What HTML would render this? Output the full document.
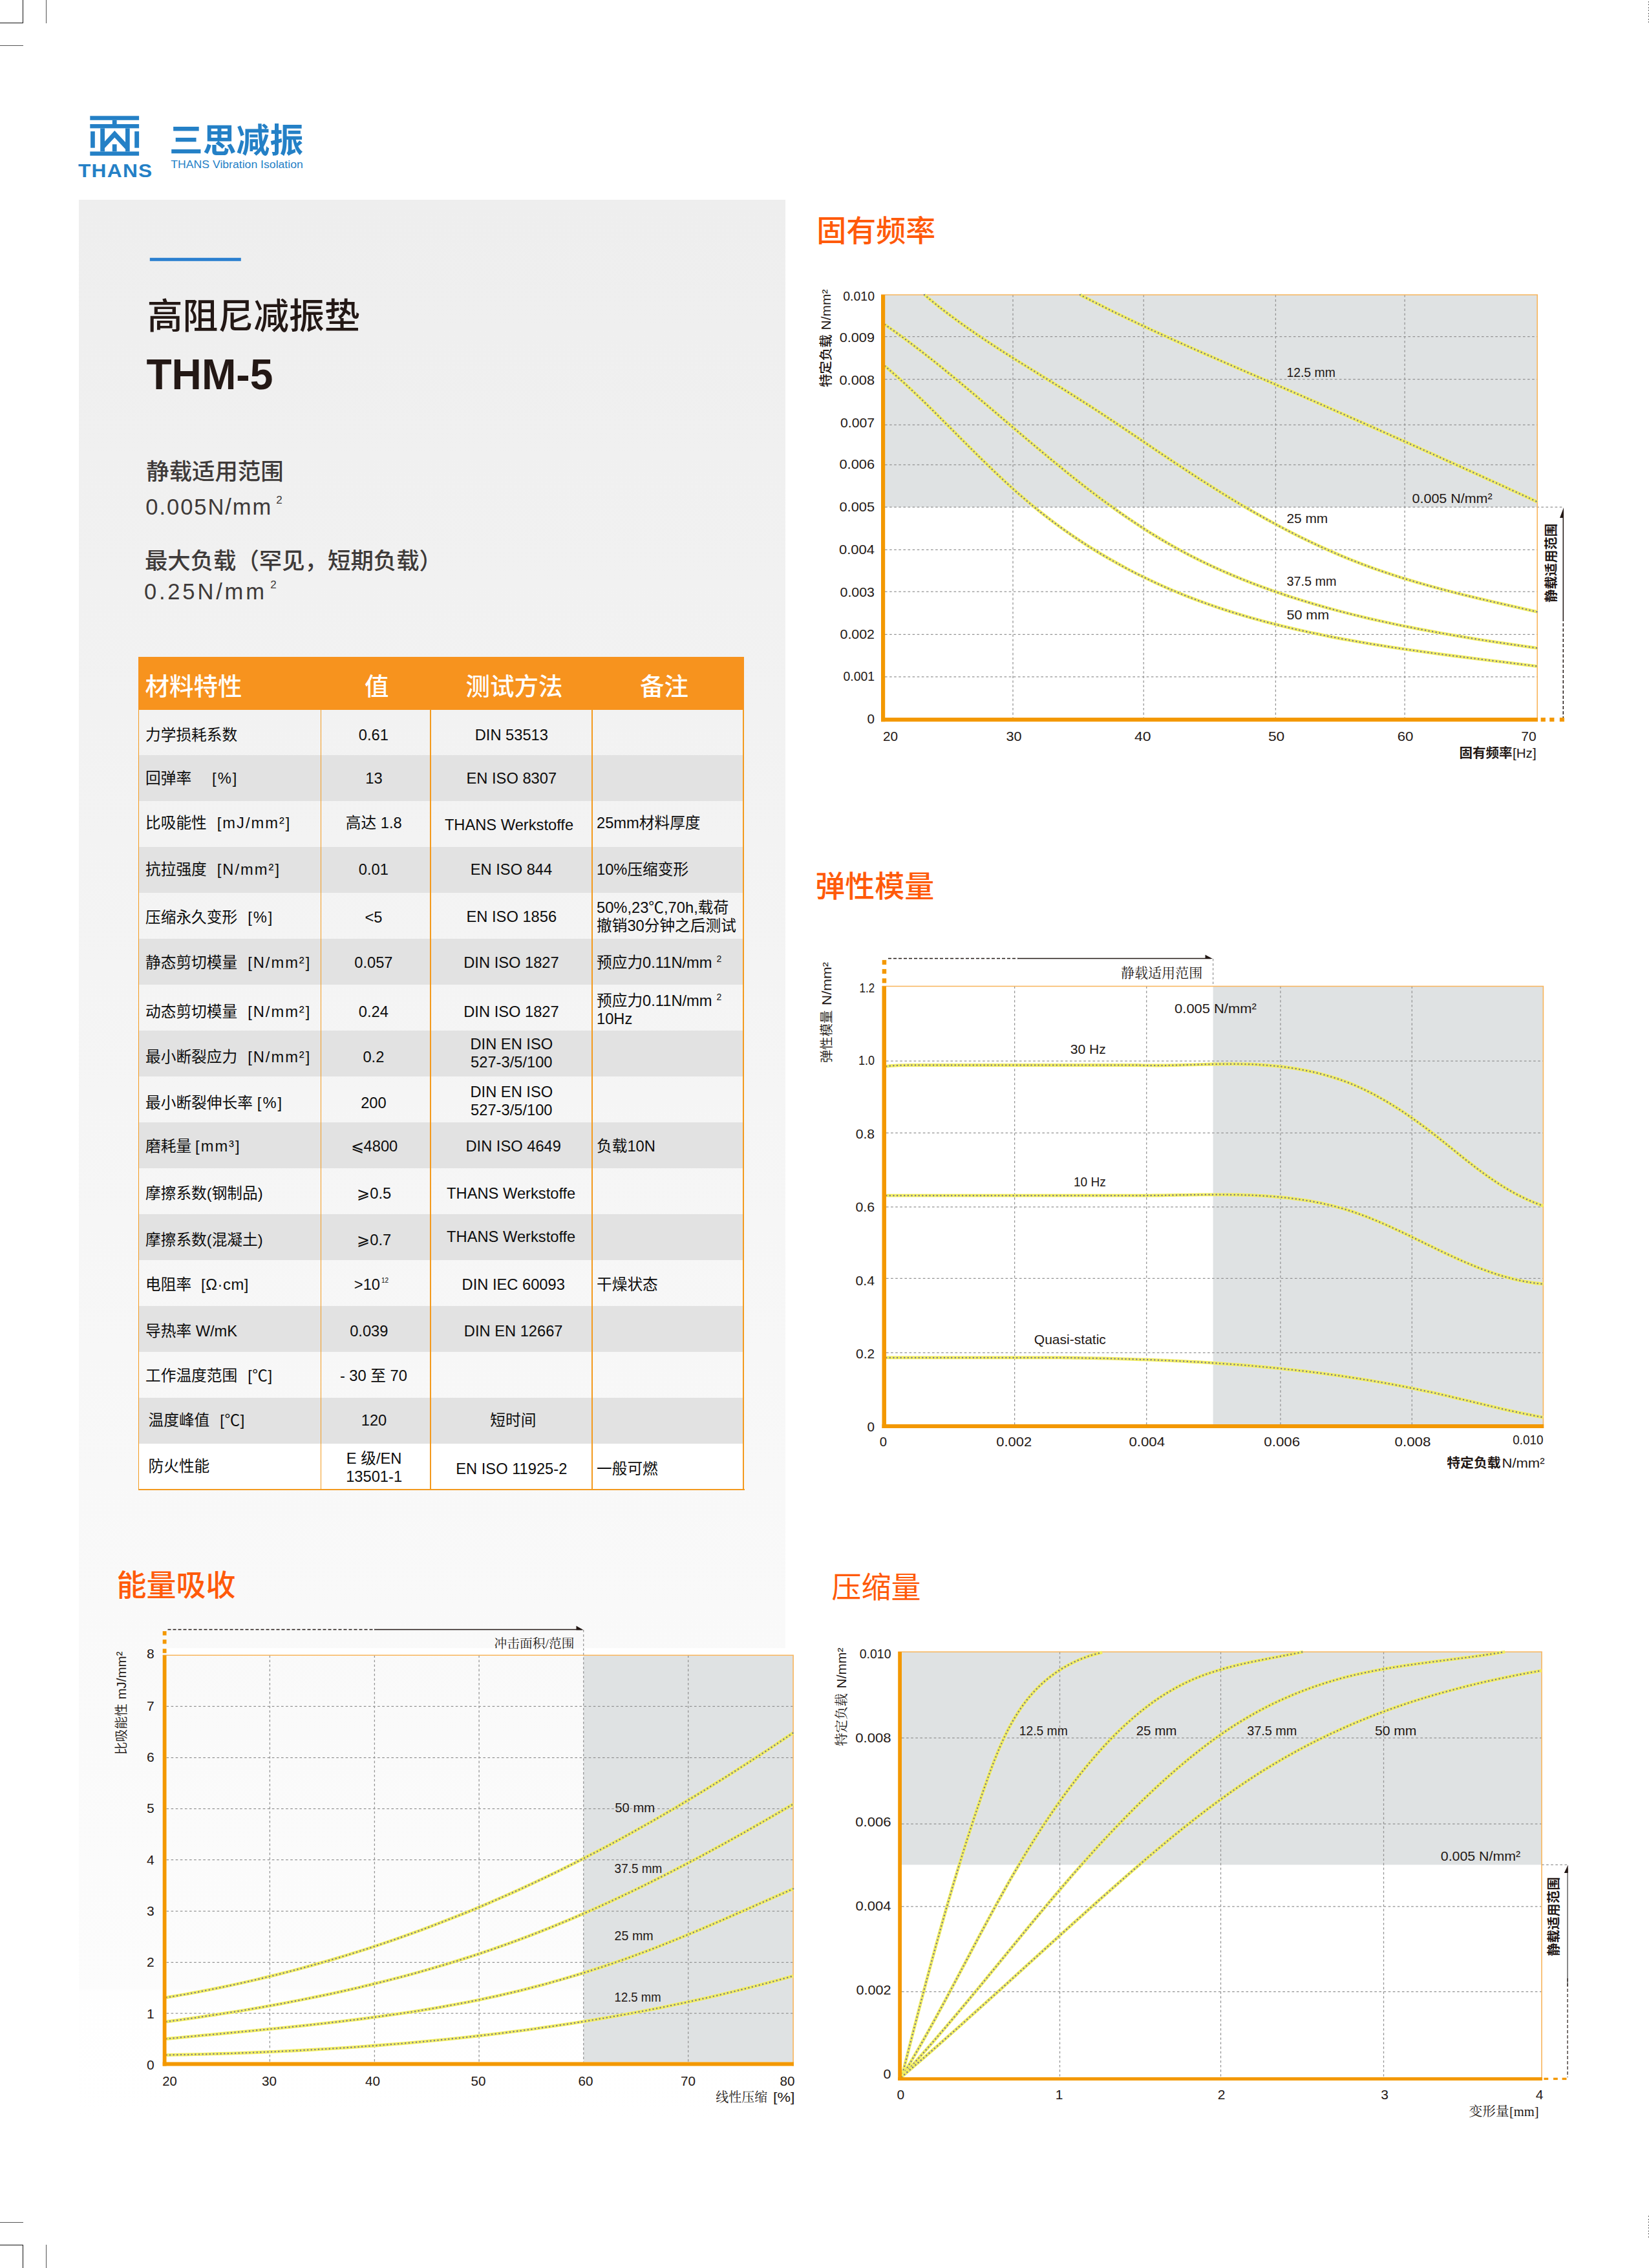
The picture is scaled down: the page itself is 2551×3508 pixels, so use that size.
<!DOCTYPE html>
<html lang="zh-CN"><head><meta charset="utf-8"><title>THM-5</title><style>
html,body{margin:0;padding:0;background:#fff}
body{width:2551px;height:3508px;position:relative;font-family:"Liberation Sans","Noto Sans CJK SC",sans-serif;color:#231815}
.abs{position:absolute}
svg text{font-family:"Liberation Sans","Noto Sans CJK SC",sans-serif;fill:#231815}
svg text.sf{font-family:"Liberation Serif","Noto Serif CJK SC",serif}
svg .b{font-weight:700}
svg .m{font-weight:500}
svg .l{font-weight:350}
.g{stroke:#939393;stroke-width:1.25;stroke-dasharray:3.6 3.5;fill:none}
.cy{stroke:#f2ee60;stroke-width:4.8;fill:none}
.cd{stroke:#7b7b8c;stroke-width:2.5;stroke-linecap:round;stroke-dasharray:0.01 5.6;fill:none}
.k{stroke:#231815;stroke-width:1.5;fill:none}
.kd{stroke:#231815;stroke-width:1.5;fill:none;stroke-dasharray:5 3}

.panel{left:122px;top:309px;width:1093px;height:2966px;background:linear-gradient(to bottom,#eeeeee 0%,#fcfcfc 93.3%,#fefefe 93.4%,#ffffff 100%)}
.crop{background:#111}
.crop.g{background:#555}
.tbl{left:0;top:0;width:0;height:0;font-size:23.7px;line-height:28px;color:#0d0d0d}
.th{left:214px;top:1016px;width:937px;height:82px;background:#f7931e;color:#fff;font-size:37.5px;font-weight:500}
.th span{position:absolute;white-space:nowrap;line-height:40px}
.tr{left:215px;width:935px;height:71px}
.tr.d{background:#e2e2e2}
.tr.w{background:#fff}
.td{position:absolute;top:0;height:71px;display:flex;align-items:center;white-space:nowrap}
.td>span{position:relative;display:block}
.c1{left:0;width:281px;justify-content:flex-start}
.c2{left:282px;width:169px;justify-content:center;text-align:center}
.c3{left:452px;width:249px;justify-content:center;text-align:center}
.c4{left:702px;width:233px;justify-content:flex-start}
.vl{background:#f39a1e;width:1.6px;top:1097px;height:1208px}
.hl{background:#f39a1e;left:213.5px;top:2303px;width:938px;height:2px}
.u{display:inline-block;letter-spacing:2px}
.u.p{letter-spacing:.8px}
.u.q{letter-spacing:.6px}
.sp{font-size:14px;line-height:0;position:relative;top:-9px;margin-left:7px}
.s12{font-size:10px;line-height:0;position:relative;top:-11px;margin-left:2px}
</style></head><body>
<div class="abs panel"></div>
<div class="abs crop" style="left:35.0px;top:0.0px;width:1.2px;height:36.0px"></div>
<div class="abs crop" style="left:0.0px;top:35.0px;width:36.0px;height:1.2px"></div>
<div class="abs crop g" style="left:70.5px;top:0.0px;width:1.2px;height:36.0px"></div>
<div class="abs crop g" style="left:0.0px;top:70.3px;width:36.0px;height:1.2px"></div>
<div class="abs" style="left:2550px;top:2px;width:1px;height:34px;background:repeating-linear-gradient(to bottom,#686868 0,#686868 2px,transparent 2px,transparent 4.5px)"></div>
<div class="abs" style="left:2550px;top:3426.5px;width:1px;height:34px;background:repeating-linear-gradient(to bottom,#686868 0,#686868 2px,transparent 2px,transparent 4.5px)"></div>
<div class="abs crop" style="left:35.0px;top:3472.0px;width:1.2px;height:36.0px"></div>
<div class="abs crop" style="left:0.0px;top:3472.0px;width:36.0px;height:1.2px"></div>
<div class="abs crop g" style="left:70.5px;top:3472.0px;width:1.2px;height:36.0px"></div>
<div class="abs crop g" style="left:0.0px;top:3436.6px;width:36.0px;height:1.2px"></div>
<div class="abs tbl">
<div class="abs th"><span style="left:10.5px;top:26px">材料特性</span><span style="left:350px;top:26px">值</span><span style="left:506.5px;top:26px">测试方法</span><span style="left:776px;top:26px">备注</span></div>
<div class="abs tr" style="top:1097.3px"><div class="td c1" style="padding-left:10px"><span id="c0_0" style="left:0.0px;top:3.8px">力学损耗系数</span></div><div class="td c2"><span id="c0_1" style="left:-3.6px;top:3.8px">0.61</span></div><div class="td c3"><span id="c0_2" style="left:-0.2px;top:3.8px">DIN 53513</span></div><div class="td c4" style="padding-left:6.5px"><span id="c0_3" style="left:0.0px;top:0.0px"></span></div></div>
<div class="abs tr d" style="top:1168.3px"><div class="td c1" style="padding-left:10px"><span id="c1_0" style="left:0.0px;top:0.2px">回弹率<span class="u" style="margin-left:32px">[%]</span></span></div><div class="td c2"><span id="c1_1" style="left:-3.1px;top:0.2px">13</span></div><div class="td c3"><span id="c1_2" style="left:-0.2px;top:0.2px">EN ISO 8307</span></div><div class="td c4" style="padding-left:6.5px"><span id="c1_3" style="left:0.0px;top:0.0px"></span></div></div>
<div class="abs tr" style="top:1239.3px"><div class="td c1" style="padding-left:10px"><span id="c2_0" style="left:0.0px;top:-2.0px">比吸能性<span class="u" style="margin-left:16px">[mJ/mm²]</span></span></div><div class="td c2"><span id="c2_1" style="left:-3.3px;top:-2.0px">高达 1.8</span></div><div class="td c3"><span id="c2_2" style="left:-4.0px;top:1.2px">THANS Werkstoffe</span></div><div class="td c4" style="padding-left:6.5px"><span id="c2_3" style="left:-0.5px;top:-2.0px">25mm材料厚度</span></div></div>
<div class="abs tr d" style="top:1310.3px"><div class="td c1" style="padding-left:10px"><span id="c3_0" style="left:0.0px;top:-1.0px">抗拉强度<span class="u" style="margin-left:16px">[N/mm²]</span></span></div><div class="td c2"><span id="c3_1" style="left:-3.6px;top:-1.0px">0.01</span></div><div class="td c3"><span id="c3_2" style="left:-0.5px;top:-1.0px">EN ISO 844</span></div><div class="td c4" style="padding-left:6.5px"><span id="c3_3" style="left:-0.5px;top:-1.0px">10%压缩变形</span></div></div>
<div class="abs tr" style="top:1381.3px"><div class="td c1" style="padding-left:10px"><span id="c4_0" style="left:0.0px;top:1.9px">压缩永久变形<span class="u" style="margin-left:16px">[%]</span></span></div><div class="td c2"><span id="c4_1" style="left:-3.6px;top:1.9px">&lt;5</span></div><div class="td c3"><span id="c4_2" style="left:-0.2px;top:1.4px">EN ISO 1856</span></div><div class="td c4" style="padding-left:6.5px"><span id="c4_3" style="left:-0.5px;top:0.9px">50%,23℃,70h,载荷<br>撤销30分钟之后测试</span></div></div>
<div class="abs tr d" style="top:1452.3px"><div class="td c1" style="padding-left:10px"><span id="c5_0" style="left:0.0px;top:1.0px">静态剪切模量<span class="u" style="margin-left:16px">[N/mm²]</span></span></div><div class="td c2"><span id="c5_1" style="left:-3.6px;top:1.0px">0.057</span></div><div class="td c3"><span id="c5_2" style="left:-0.5px;top:1.0px">DIN ISO 1827</span></div><div class="td c4" style="padding-left:6.5px"><span id="c5_3" style="left:-0.5px;top:1.1px">预应力0.11N/mm<span class="sp">2</span></span></div></div>
<div class="abs tr" style="top:1523.3px"><div class="td c1" style="padding-left:10px"><span id="c6_0" style="left:0.0px;top:6.5px">动态剪切模量<span class="u" style="margin-left:16px">[N/mm²]</span></span></div><div class="td c2"><span id="c6_1" style="left:-3.6px;top:6.7px">0.24</span></div><div class="td c3"><span id="c6_2" style="left:-0.5px;top:6.7px">DIN ISO 1827</span></div><div class="td c4" style="padding-left:6.5px"><span id="c6_3" style="left:-0.5px;top:3.2px">预应力0.11N/mm<span class="sp">2</span><br>10Hz</span></div></div>
<div class="abs tr d" style="top:1594.3px"><div class="td c1" style="padding-left:10px"><span id="c7_0" style="left:0.0px;top:5.6px">最小断裂应力<span class="u" style="margin-left:16px">[N/mm²]</span></span></div><div class="td c2"><span id="c7_1" style="left:-3.6px;top:5.6px">0.2</span></div><div class="td c3"><span id="c7_2" style="left:-0.2px;top:-0.4px">DIN EN ISO<br>527-3/5/100</span></div><div class="td c4" style="padding-left:6.5px"><span id="c7_3" style="left:0.0px;top:0.0px"></span></div></div>
<div class="abs tr" style="top:1665.3px"><div class="td c1" style="padding-left:10px"><span id="c8_0" style="left:0.0px;top:5.4px">最小断裂伸长率<span class="u" style="margin-left:7px">[%]</span></span></div><div class="td c2"><span id="c8_1" style="left:-3.6px;top:5.4px">200</span></div><div class="td c3"><span id="c8_2" style="left:-0.2px;top:2.7px">DIN EN ISO<br>527-3/5/100</span></div><div class="td c4" style="padding-left:6.5px"><span id="c8_3" style="left:0.0px;top:0.0px"></span></div></div>
<div class="abs tr d" style="top:1736.3px"><div class="td c1" style="padding-left:10px"><span id="c9_0" style="left:0.0px;top:1.2px">磨耗量<span class="u" style="margin-left:6px">[mm³]</span></span></div><div class="td c2"><span id="c9_1" style="left:-2.6px;top:1.2px">⩽4800</span></div><div class="td c3"><span id="c9_2" style="left:2.7px;top:1.2px">DIN ISO 4649</span></div><div class="td c4" style="padding-left:6.5px"><span id="c9_3" style="left:-0.5px;top:1.2px">负载10N</span></div></div>
<div class="abs tr" style="top:1807.3px"><div class="td c1" style="padding-left:10px"><span id="c10_0" style="left:0.0px;top:2.9px">摩擦系数(钢制品)</span></div><div class="td c2"><span id="c10_1" style="left:-2.7px;top:2.9px">⩾0.5</span></div><div class="td c3"><span id="c10_2" style="left:-0.8px;top:2.9px">THANS Werkstoffe</span></div><div class="td c4" style="padding-left:6.5px"><span id="c10_3" style="left:0.0px;top:0.0px"></span></div></div>
<div class="abs tr d" style="top:1878.3px"><div class="td c1" style="padding-left:10px"><span id="c11_0" style="left:0.0px;top:4.5px">摩擦系数(混凝土)</span></div><div class="td c2"><span id="c11_1" style="left:-2.7px;top:4.5px">⩾0.7</span></div><div class="td c3"><span id="c11_2" style="left:-0.8px;top:-0.6px">THANS Werkstoffe</span></div><div class="td c4" style="padding-left:6.5px"><span id="c11_3" style="left:0.0px;top:0.0px"></span></div></div>
<div class="abs tr" style="top:1949.3px"><div class="td c1" style="padding-left:10px"><span id="c12_0" style="left:0.0px;top:2.3px">电阻率<span class="u q" style="margin-left:15px">[Ω·cm]</span></span></div><div class="td c2"><span id="c12_1" style="left:-7.0px;top:2.3px">&gt;10<span class="s12">12</span></span></div><div class="td c3"><span id="c12_2" style="left:2.7px;top:2.3px">DIN IEC 60093</span></div><div class="td c4" style="padding-left:6.5px"><span id="c12_3" style="left:-0.5px;top:2.3px">干燥状态</span></div></div>
<div class="abs tr d" style="top:2020.3px"><div class="td c1" style="padding-left:10px"><span id="c13_0" style="left:0.0px;top:3.3px">导热率 W/mK</span></div><div class="td c2"><span id="c13_1" style="left:-10.7px;top:3.3px">0.039</span></div><div class="td c3"><span id="c13_2" style="left:2.7px;top:3.3px">DIN EN 12667</span></div><div class="td c4" style="padding-left:6.5px"><span id="c13_3" style="left:0.0px;top:0.0px"></span></div></div>
<div class="abs tr" style="top:2091.3px"><div class="td c1" style="padding-left:10px"><span id="c14_0" style="left:0.0px;top:1.1px">工作温度范围<span class="u q" style="margin-left:16px">[℃]</span></span></div><div class="td c2"><span id="c14_1" style="left:-3.6px;top:1.1px">- 30 至 70</span></div><div class="td c3"><span id="c14_2" style="left:0.0px;top:0.0px"></span></div><div class="td c4" style="padding-left:6.5px"><span id="c14_3" style="left:0.0px;top:0.0px"></span></div></div>
<div class="abs tr d" style="top:2162.3px"><div class="td c1" style="padding-left:14.5px"><span id="c15_0" style="left:0.0px;top:-0.5px">温度峰值<span class="u q" style="margin-left:16px">[℃]</span></span></div><div class="td c2"><span id="c15_1" style="left:-3.0px;top:-0.5px">120</span></div><div class="td c3"><span id="c15_2" style="left:2.4px;top:-0.5px">短时间</span></div><div class="td c4" style="padding-left:6.5px"><span id="c15_3" style="left:0.0px;top:0.0px"></span></div></div>
<div class="abs tr w" style="top:2233.3px"><div class="td c1" style="padding-left:14.5px"><span id="c16_0" style="left:0.0px;top:-0.8px">防火性能</span></div><div class="td c2"><span id="c16_1" style="left:-2.9px;top:1.0px">E 级/EN<br>13501-1</span></div><div class="td c3"><span id="c16_2" style="left:-0.2px;top:3.1px">EN ISO 11925-2</span></div><div class="td c4" style="padding-left:6.5px"><span id="c16_3" style="left:-0.5px;top:3.1px">一般可燃</span></div></div>
<div class="abs vl" style="left:213.5px"></div>
<div class="abs vl" style="left:495.5px"></div>
<div class="abs vl" style="left:665.0px"></div>
<div class="abs vl" style="left:915.2px"></div>
<div class="abs vl" style="left:1149.3px"></div>
<div class="abs hl"></div>
</div>
<svg class="abs" style="left:0;top:0" width="2551" height="3508" viewBox="0 0 2551 3508">
<defs><path id="cv0" d="M1369.2 566.3C1373.3 569.9 1385.6 580.5 1393.6 587.8C1401.7 595.0 1409.6 602.5 1417.5 610.0C1425.4 617.5 1433.2 625.1 1441.0 632.8C1448.8 640.5 1456.5 648.2 1464.3 656.0C1472.0 663.7 1479.7 671.5 1487.5 679.3C1495.2 687.0 1503.0 694.8 1510.8 702.5C1518.6 710.2 1526.4 717.9 1534.3 725.5C1542.3 733.1 1550.2 740.6 1558.3 748.0C1566.3 755.4 1574.5 762.7 1582.8 769.8C1591.0 776.9 1599.4 783.9 1607.9 790.7C1616.4 797.5 1625.1 804.1 1633.9 810.6C1642.6 817.1 1651.5 823.4 1660.5 829.5C1669.5 835.6 1678.6 841.6 1687.8 847.4C1697.0 853.2 1706.3 858.8 1715.8 864.2C1725.2 869.6 1734.7 874.9 1744.3 880.0C1753.9 885.1 1763.6 890.0 1773.4 894.7C1783.2 899.4 1793.1 904.0 1803.0 908.4C1813.0 912.7 1823.0 916.9 1833.1 921.0C1843.2 925.0 1853.4 928.8 1863.6 932.5C1873.8 936.2 1884.1 939.7 1894.5 943.1C1904.9 946.5 1915.3 949.7 1925.8 952.8C1936.2 955.9 1946.8 958.8 1957.3 961.6C1967.9 964.4 1978.5 967.1 1989.2 969.7C1999.8 972.3 2010.5 974.7 2021.3 977.0C2032.0 979.4 2042.8 981.6 2053.5 983.8C2064.3 985.9 2075.1 988.0 2086.0 989.9C2096.8 991.9 2107.6 993.8 2118.5 995.6C2129.4 997.4 2140.2 999.1 2151.1 1000.8C2162.0 1002.5 2172.9 1004.1 2183.8 1005.6C2194.7 1007.2 2205.6 1008.7 2216.4 1010.2C2227.3 1011.6 2238.2 1013.1 2249.0 1014.5C2259.9 1015.9 2270.7 1017.2 2281.5 1018.6C2292.4 1019.9 2303.2 1021.3 2313.9 1022.6C2324.7 1023.9 2335.5 1025.3 2346.2 1026.6C2356.9 1027.9 2372.9 1029.9 2378.2 1030.6"/><path id="cv1" d="M1369.2 502.1C1373.6 505.3 1386.9 514.6 1395.7 521.1C1404.5 527.5 1413.2 534.1 1421.8 540.8C1430.5 547.4 1439.1 554.2 1447.6 561.0C1456.2 567.9 1464.7 574.8 1473.2 581.8C1481.7 588.7 1490.1 595.8 1498.6 602.9C1507.0 609.9 1515.4 617.1 1523.8 624.2C1532.2 631.3 1540.6 638.5 1549.0 645.7C1557.4 652.8 1565.8 660.0 1574.2 667.1C1582.6 674.3 1591.0 681.4 1599.5 688.5C1607.9 695.6 1616.4 702.7 1624.9 709.7C1633.4 716.7 1641.9 723.7 1650.4 730.6C1659.0 737.5 1667.6 744.3 1676.3 751.1C1684.9 757.8 1693.6 764.4 1702.4 771.0C1711.2 777.5 1720.0 783.9 1728.9 790.2C1737.8 796.5 1746.8 802.7 1755.9 808.7C1765.0 814.8 1774.1 820.7 1783.3 826.4C1792.6 832.1 1801.9 837.6 1811.4 843.0C1820.8 848.4 1830.4 853.6 1840.0 858.6C1849.7 863.6 1859.4 868.4 1869.3 873.1C1879.1 877.7 1889.0 882.2 1899.1 886.5C1909.1 890.9 1919.2 895.0 1929.3 899.0C1939.5 903.1 1949.8 906.9 1960.1 910.6C1970.4 914.4 1980.8 917.9 1991.2 921.4C2001.7 924.8 2012.2 928.1 2022.7 931.3C2033.2 934.5 2043.9 937.6 2054.5 940.5C2065.1 943.4 2075.8 946.3 2086.5 949.0C2097.3 951.7 2108.0 954.3 2118.8 956.8C2129.6 959.3 2140.4 961.7 2151.2 964.0C2162.0 966.4 2172.8 968.6 2183.7 970.7C2194.5 972.9 2205.4 974.9 2216.3 976.9C2227.1 978.9 2238.0 980.8 2248.8 982.7C2259.7 984.5 2270.5 986.3 2281.4 988.1C2292.2 989.8 2303.0 991.5 2313.8 993.1C2324.6 994.7 2335.4 996.3 2346.1 997.9C2356.8 999.4 2372.8 1001.6 2378.2 1002.4"/><path id="cv2" d="M1430.0 456.0C1434.0 459.2 1445.8 469.1 1453.9 475.5C1461.9 481.8 1470.1 488.0 1478.4 494.0C1486.6 500.1 1495.0 506.0 1503.4 511.8C1511.8 517.7 1520.3 523.4 1528.8 529.0C1537.4 534.7 1546.0 540.2 1554.6 545.8C1563.3 551.3 1572.0 556.7 1580.7 562.2C1589.4 567.6 1598.1 573.0 1606.8 578.4C1615.6 583.8 1624.3 589.2 1633.0 594.6C1641.8 600.0 1650.5 605.4 1659.2 610.9C1667.9 616.4 1676.6 621.9 1685.2 627.4C1693.9 633.0 1702.5 638.6 1711.1 644.3C1719.6 650.0 1728.2 655.7 1736.7 661.4C1745.3 667.1 1753.8 672.9 1762.3 678.6C1770.9 684.4 1779.4 690.1 1787.9 695.9C1796.4 701.6 1805.0 707.4 1813.5 713.1C1822.1 718.8 1830.6 724.5 1839.2 730.1C1847.8 735.7 1856.5 741.3 1865.1 746.8C1873.8 752.4 1882.5 757.8 1891.2 763.2C1899.9 768.6 1908.7 773.9 1917.5 779.2C1926.4 784.4 1935.2 789.6 1944.1 794.6C1953.0 799.7 1962.0 804.6 1971.0 809.5C1980.0 814.4 1989.1 819.2 1998.2 823.8C2007.3 828.5 2016.4 833.0 2025.7 837.4C2034.9 841.9 2044.2 846.2 2053.5 850.3C2062.9 854.5 2072.3 858.6 2081.7 862.5C2091.2 866.3 2100.7 870.1 2110.3 873.7C2119.9 877.3 2129.6 880.8 2139.3 884.1C2149.0 887.4 2158.8 890.6 2168.6 893.7C2178.5 896.7 2188.3 899.7 2198.3 902.5C2208.2 905.4 2218.1 908.1 2228.1 910.7C2238.1 913.4 2248.1 916.0 2258.1 918.5C2268.1 921.0 2278.1 923.4 2288.2 925.8C2298.2 928.2 2308.2 930.5 2318.3 932.8C2328.3 935.1 2338.3 937.4 2348.3 939.6C2358.3 941.9 2373.2 945.3 2378.2 946.4"/><path id="cv3" d="M1671.0 456.0C1674.3 457.7 1684.1 462.8 1690.7 466.2C1697.3 469.5 1703.9 472.9 1710.5 476.2C1717.1 479.4 1723.7 482.7 1730.3 485.9C1737.0 489.2 1743.6 492.4 1750.3 495.5C1757.0 498.7 1763.6 501.9 1770.3 505.0C1777.0 508.1 1783.7 511.2 1790.4 514.3C1797.2 517.4 1803.9 520.5 1810.6 523.5C1817.3 526.6 1824.1 529.6 1830.8 532.6C1837.6 535.6 1844.3 538.6 1851.1 541.6C1857.9 544.6 1864.6 547.6 1871.4 550.5C1878.2 553.5 1884.9 556.5 1891.7 559.4C1898.5 562.4 1905.3 565.3 1912.1 568.3C1918.9 571.2 1925.6 574.1 1932.4 577.1C1939.2 580.0 1946.0 582.9 1952.8 585.9C1959.6 588.8 1966.4 591.8 1973.2 594.7C1979.9 597.6 1986.7 600.6 1993.5 603.5C2000.3 606.5 2007.1 609.5 2013.9 612.4C2020.6 615.4 2027.4 618.4 2034.2 621.3C2041.0 624.3 2047.7 627.3 2054.5 630.3C2061.3 633.2 2068.0 636.2 2074.8 639.2C2081.6 642.2 2088.3 645.2 2095.1 648.2C2101.9 651.2 2108.6 654.2 2115.4 657.2C2122.2 660.2 2128.9 663.2 2135.7 666.2C2142.4 669.2 2149.2 672.2 2155.9 675.3C2162.7 678.3 2169.4 681.3 2176.2 684.3C2182.9 687.4 2189.7 690.4 2196.4 693.4C2203.2 696.5 2209.9 699.5 2216.7 702.5C2223.4 705.6 2230.2 708.6 2236.9 711.7C2243.6 714.7 2250.4 717.8 2257.1 720.8C2263.8 723.9 2270.6 727.0 2277.3 730.0C2284.1 733.1 2290.8 736.1 2297.5 739.2C2304.2 742.3 2311.0 745.4 2317.7 748.4C2324.4 751.5 2331.2 754.6 2337.9 757.7C2344.6 760.8 2351.3 763.8 2358.0 766.9C2364.8 770.0 2374.8 774.7 2378.2 776.2"/><path id="cv4" d="M1371.2 1649.4L1377.0 1648.6L1390.0 1647.8L1410.0 1647.5L1760.0 1647.5C1762.4 1647.6 1769.7 1647.8 1774.6 1647.9C1779.5 1647.9 1784.3 1648.0 1789.2 1648.0C1794.1 1648.0 1799.0 1647.9 1803.8 1647.9C1808.7 1647.8 1813.6 1647.7 1818.4 1647.6C1823.3 1647.5 1828.2 1647.3 1833.0 1647.2C1837.9 1647.1 1842.8 1646.9 1847.6 1646.8C1852.5 1646.6 1857.4 1646.5 1862.3 1646.4C1867.1 1646.2 1872.0 1646.1 1876.9 1646.0C1881.8 1645.9 1886.7 1645.8 1891.5 1645.8C1896.4 1645.7 1901.3 1645.7 1906.2 1645.7C1911.1 1645.7 1916.0 1645.7 1920.8 1645.8C1925.7 1645.9 1930.6 1646.1 1935.5 1646.2C1940.4 1646.4 1945.3 1646.7 1950.2 1647.0C1955.1 1647.3 1960.0 1647.7 1964.9 1648.1C1969.8 1648.5 1974.6 1649.0 1979.5 1649.5C1984.4 1650.1 1989.2 1650.7 1994.1 1651.4C1998.9 1652.1 2003.8 1652.8 2008.6 1653.6C2013.4 1654.5 2018.2 1655.4 2023.0 1656.4C2027.8 1657.3 2032.5 1658.4 2037.2 1659.5C2042.0 1660.7 2046.7 1661.9 2051.3 1663.2C2056.0 1664.5 2060.7 1665.9 2065.3 1667.4C2069.9 1668.8 2074.5 1670.4 2079.0 1672.1C2083.6 1673.7 2088.1 1675.5 2092.6 1677.3C2097.0 1679.2 2101.5 1681.1 2105.9 1683.2C2110.3 1685.2 2114.6 1687.3 2119.0 1689.5C2123.3 1691.7 2127.6 1693.9 2131.8 1696.3C2136.1 1698.6 2140.3 1701.0 2144.5 1703.5C2148.7 1705.9 2152.9 1708.5 2157.0 1711.1C2161.2 1713.7 2165.3 1716.3 2169.4 1719.0C2173.4 1721.7 2177.5 1724.5 2181.5 1727.3C2185.5 1730.1 2189.5 1732.9 2193.5 1735.8C2197.5 1738.7 2201.4 1741.6 2205.4 1744.5C2209.3 1747.5 2213.2 1750.5 2217.1 1753.5C2220.9 1756.5 2224.8 1759.5 2228.6 1762.6C2232.4 1765.6 2236.3 1768.7 2240.1 1771.8C2243.9 1774.8 2247.7 1777.9 2251.5 1781.0C2255.3 1784.0 2259.1 1787.1 2262.9 1790.1C2266.7 1793.2 2270.5 1796.2 2274.4 1799.2C2278.2 1802.2 2282.1 1805.1 2286.0 1808.1C2289.8 1811.0 2293.7 1813.9 2297.7 1816.7C2301.6 1819.5 2305.6 1822.3 2309.6 1825.0C2313.6 1827.7 2317.6 1830.4 2321.7 1833.0C2325.8 1835.6 2329.9 1838.1 2334.1 1840.5C2338.3 1843.0 2342.5 1845.3 2346.9 1847.6C2351.2 1849.9 2355.5 1852.0 2359.9 1854.1C2364.4 1856.2 2368.9 1858.1 2373.4 1860.0C2378.0 1861.8 2385.1 1864.3 2387.4 1865.2"/><path id="cv5" d="M1371.2 1849.2L1760.0 1849.2C1762.3 1849.2 1769.1 1849.2 1773.7 1849.1C1778.2 1849.1 1782.8 1849.1 1787.4 1849.0C1792.0 1849.0 1796.6 1848.9 1801.2 1848.8C1805.8 1848.7 1810.4 1848.7 1815.0 1848.6C1819.6 1848.5 1824.3 1848.4 1828.9 1848.3C1833.5 1848.3 1838.2 1848.2 1842.8 1848.1C1847.5 1848.1 1852.1 1848.0 1856.8 1847.9C1861.5 1847.9 1866.1 1847.8 1870.8 1847.8C1875.4 1847.8 1880.1 1847.8 1884.8 1847.8C1889.4 1847.8 1894.1 1847.8 1898.8 1847.8C1903.4 1847.9 1908.1 1848.0 1912.7 1848.0C1917.4 1848.1 1922.1 1848.3 1926.7 1848.4C1931.4 1848.6 1936.0 1848.7 1940.7 1848.9C1945.3 1849.2 1950.0 1849.4 1954.6 1849.7C1959.2 1850.0 1963.8 1850.3 1968.5 1850.6C1973.1 1851.0 1977.7 1851.4 1982.3 1851.9C1986.9 1852.3 1991.5 1852.8 1996.1 1853.3C2000.6 1853.9 2005.2 1854.5 2009.8 1855.1C2014.3 1855.8 2018.9 1856.5 2023.4 1857.2C2027.9 1858.0 2032.4 1858.8 2036.9 1859.7C2041.4 1860.6 2045.9 1861.5 2050.4 1862.5C2054.9 1863.5 2059.3 1864.6 2063.8 1865.7C2068.2 1866.9 2072.6 1868.1 2077.0 1869.3C2081.4 1870.6 2085.8 1872.0 2090.1 1873.4C2094.5 1874.8 2098.8 1876.3 2103.1 1877.9C2107.5 1879.4 2111.8 1881.1 2116.1 1882.7C2120.3 1884.4 2124.6 1886.2 2128.9 1887.9C2133.1 1889.7 2137.4 1891.6 2141.6 1893.4C2145.9 1895.3 2150.1 1897.2 2154.3 1899.1C2158.5 1901.0 2162.7 1903.0 2167.0 1905.0C2171.2 1907.0 2175.4 1909.0 2179.6 1911.0C2183.8 1913.0 2187.9 1915.1 2192.1 1917.1C2196.3 1919.2 2200.5 1921.2 2204.7 1923.3C2208.9 1925.3 2213.1 1927.4 2217.3 1929.4C2221.5 1931.5 2225.7 1933.5 2229.9 1935.5C2234.1 1937.5 2238.3 1939.5 2242.5 1941.5C2246.7 1943.4 2251.0 1945.4 2255.2 1947.3C2259.4 1949.2 2263.7 1951.0 2267.9 1952.9C2272.2 1954.7 2276.5 1956.5 2280.7 1958.2C2285.0 1960.0 2289.3 1961.7 2293.6 1963.3C2297.9 1964.9 2302.3 1966.5 2306.6 1968.0C2311.0 1969.5 2315.3 1970.9 2319.7 1972.3C2324.1 1973.6 2328.5 1974.9 2333.0 1976.1C2337.4 1977.3 2341.8 1978.5 2346.3 1979.5C2350.8 1980.5 2355.3 1981.5 2359.8 1982.3C2364.4 1983.1 2368.9 1983.9 2373.5 1984.5C2378.1 1985.2 2385.1 1985.8 2387.4 1986.1"/><path id="cv6" d="M1371.2 2099.9L1640.0 2099.9C1642.7 2099.9 1650.7 2100.0 1656.0 2100.1C1661.4 2100.2 1666.7 2100.3 1672.1 2100.4C1677.5 2100.5 1682.8 2100.6 1688.2 2100.7C1693.5 2100.8 1698.9 2100.9 1704.2 2101.0C1709.6 2101.1 1714.9 2101.3 1720.3 2101.4C1725.6 2101.5 1731.0 2101.7 1736.3 2101.8C1741.7 2102.0 1747.1 2102.1 1752.4 2102.3C1757.8 2102.5 1763.1 2102.7 1768.5 2102.8C1773.8 2103.0 1779.2 2103.2 1784.5 2103.4C1789.9 2103.7 1795.3 2103.9 1800.6 2104.1C1806.0 2104.3 1811.3 2104.6 1816.7 2104.8C1822.0 2105.1 1827.4 2105.3 1832.7 2105.6C1838.1 2105.9 1843.4 2106.2 1848.8 2106.5C1854.1 2106.8 1859.5 2107.1 1864.8 2107.4C1870.2 2107.8 1875.5 2108.1 1880.9 2108.5C1886.2 2108.8 1891.6 2109.2 1896.9 2109.6C1902.3 2109.9 1907.6 2110.3 1913.0 2110.7C1918.3 2111.2 1923.6 2111.6 1929.0 2112.0C1934.3 2112.5 1939.7 2112.9 1945.0 2113.4C1950.3 2113.9 1955.7 2114.3 1961.0 2114.8C1966.3 2115.3 1971.7 2115.9 1977.0 2116.4C1982.3 2116.9 1987.7 2117.5 1993.0 2118.1C1998.3 2118.6 2003.6 2119.2 2009.0 2119.8C2014.3 2120.4 2019.6 2121.1 2024.9 2121.7C2030.2 2122.4 2035.5 2123.0 2040.9 2123.7C2046.2 2124.4 2051.5 2125.1 2056.8 2125.8C2062.1 2126.5 2067.4 2127.3 2072.7 2128.0C2078.0 2128.8 2083.3 2129.6 2088.6 2130.4C2093.9 2131.2 2099.2 2132.0 2104.5 2132.8C2109.8 2133.7 2115.0 2134.5 2120.3 2135.4C2125.6 2136.3 2130.9 2137.2 2136.2 2138.1C2141.4 2139.0 2146.7 2140.0 2152.0 2140.9C2157.2 2141.9 2162.5 2142.9 2167.8 2143.9C2173.0 2144.9 2178.3 2146.0 2183.5 2147.0C2188.8 2148.1 2194.0 2149.2 2199.3 2150.3C2204.5 2151.4 2209.7 2152.5 2215.0 2153.6C2220.2 2154.8 2225.4 2156.0 2230.6 2157.1C2235.9 2158.3 2241.1 2159.5 2246.3 2160.8C2251.5 2162.0 2256.7 2163.2 2261.9 2164.5C2267.2 2165.7 2272.4 2167.0 2277.6 2168.2C2282.8 2169.5 2288.0 2170.7 2293.2 2171.9C2298.4 2173.2 2303.6 2174.4 2308.8 2175.7C2314.1 2176.9 2319.3 2178.1 2324.5 2179.3C2329.7 2180.5 2334.9 2181.7 2340.2 2182.8C2345.4 2183.9 2350.6 2185.1 2355.9 2186.2C2361.1 2187.3 2366.4 2188.3 2371.6 2189.3C2376.9 2190.4 2384.8 2191.8 2387.4 2192.3"/><path id="cv7" d="M257.5 3089.6C262.5 3088.7 277.5 3086.3 287.5 3084.5C297.4 3082.7 307.4 3080.9 317.3 3078.9C327.3 3077.0 337.2 3075.0 347.1 3072.9C357.0 3070.9 366.9 3068.7 376.8 3066.5C386.6 3064.3 396.5 3062.0 406.3 3059.7C416.2 3057.3 426.0 3054.9 435.8 3052.4C445.6 3049.9 455.3 3047.4 465.1 3044.7C474.9 3042.1 484.6 3039.4 494.3 3036.6C504.0 3033.9 513.7 3031.0 523.4 3028.1C533.1 3025.2 542.7 3022.3 552.3 3019.2C562.0 3016.2 571.6 3013.1 581.1 3009.9C590.7 3006.7 600.3 3003.5 609.8 3000.2C619.4 2996.9 628.9 2993.5 638.4 2990.1C647.9 2986.6 657.3 2983.1 666.8 2979.5C676.2 2976.0 685.7 2972.3 695.0 2968.6C704.4 2964.9 713.8 2961.2 723.2 2957.4C732.5 2953.5 741.8 2949.6 751.1 2945.7C760.4 2941.7 769.7 2937.7 778.9 2933.6C788.2 2929.6 797.4 2925.4 806.6 2921.2C815.7 2917.0 824.9 2912.7 834.0 2908.4C843.2 2904.1 852.3 2899.7 861.4 2895.3C870.4 2890.8 879.5 2886.3 888.5 2881.8C897.5 2877.2 906.5 2872.6 915.5 2867.9C924.5 2863.3 933.4 2858.5 942.4 2853.8C951.3 2849.0 960.2 2844.2 969.0 2839.3C977.9 2834.4 986.7 2829.5 995.5 2824.5C1004.4 2819.6 1013.1 2814.6 1021.9 2809.5C1030.7 2804.4 1039.4 2799.3 1048.1 2794.2C1056.8 2789.0 1065.5 2783.8 1074.1 2778.6C1082.8 2773.3 1091.4 2768.1 1100.0 2762.7C1108.6 2757.4 1117.2 2752.1 1125.8 2746.7C1134.3 2741.3 1142.8 2735.8 1151.3 2730.3C1159.8 2724.9 1168.3 2719.4 1176.7 2713.8C1185.2 2708.3 1193.6 2702.7 1202.0 2697.1C1210.4 2691.5 1222.9 2683.0 1227.1 2680.2"/><path id="cv8" d="M257.5 3127.0C262.4 3126.3 277.1 3124.4 286.8 3123.0C296.6 3121.7 306.4 3120.3 316.1 3118.9C325.9 3117.4 335.7 3116.0 345.4 3114.4C355.2 3112.9 364.9 3111.4 374.7 3109.8C384.4 3108.1 394.2 3106.5 403.9 3104.8C413.6 3103.1 423.3 3101.4 433.0 3099.6C442.8 3097.8 452.5 3095.9 462.1 3094.0C471.8 3092.1 481.5 3090.2 491.2 3088.2C500.8 3086.2 510.5 3084.2 520.1 3082.1C529.7 3079.9 539.4 3077.8 549.0 3075.6C558.6 3073.3 568.2 3071.1 577.7 3068.7C587.3 3066.4 596.9 3064.0 606.4 3061.5C615.9 3059.1 625.5 3056.6 635.0 3054.0C644.5 3051.4 653.9 3048.7 663.4 3046.0C672.9 3043.3 682.3 3040.5 691.7 3037.7C701.1 3034.8 710.5 3031.9 719.9 3028.9C729.3 3025.9 738.6 3022.9 747.9 3019.7C757.2 3016.6 766.5 3013.4 775.8 3010.1C785.1 3006.8 794.3 3003.5 803.5 3000.0C812.8 2996.6 821.9 2993.1 831.1 2989.5C840.3 2985.9 849.4 2982.3 858.5 2978.6C867.6 2974.8 876.7 2971.0 885.7 2967.2C894.8 2963.3 903.8 2959.4 912.8 2955.4C921.8 2951.4 930.8 2947.3 939.8 2943.2C948.7 2939.1 957.6 2934.9 966.5 2930.7C975.5 2926.5 984.3 2922.2 993.2 2917.9C1002.0 2913.5 1010.9 2909.1 1019.7 2904.7C1028.5 2900.3 1037.3 2895.8 1046.1 2891.2C1054.8 2886.7 1063.6 2882.1 1072.3 2877.5C1081.0 2872.9 1089.7 2868.2 1098.4 2863.5C1107.1 2858.8 1115.7 2854.1 1124.4 2849.3C1133.0 2844.5 1141.6 2839.7 1150.2 2834.9C1158.8 2830.0 1167.4 2825.1 1176.0 2820.2C1184.5 2815.3 1193.1 2810.4 1201.6 2805.4C1210.1 2800.5 1222.8 2793.0 1227.1 2790.5"/><path id="cv9" d="M257.5 3153.5C262.2 3153.0 276.4 3151.7 285.9 3150.8C295.4 3149.9 304.9 3149.0 314.4 3148.1C323.9 3147.2 333.4 3146.4 342.9 3145.5C352.4 3144.6 361.9 3143.7 371.5 3142.8C381.0 3141.9 390.5 3141.0 400.0 3140.1C409.6 3139.2 419.1 3138.2 428.7 3137.3C438.2 3136.3 447.7 3135.4 457.3 3134.4C466.8 3133.4 476.4 3132.4 485.9 3131.3C495.4 3130.3 505.0 3129.2 514.5 3128.1C524.0 3127.0 533.6 3125.9 543.1 3124.7C552.6 3123.6 562.1 3122.4 571.6 3121.1C581.1 3119.9 590.6 3118.6 600.1 3117.2C609.6 3115.9 619.1 3114.5 628.6 3113.1C638.0 3111.7 647.5 3110.2 657.0 3108.6C666.4 3107.1 675.8 3105.5 685.3 3103.8C694.7 3102.2 704.1 3100.4 713.5 3098.6C722.9 3096.9 732.3 3095.0 741.6 3093.1C751.0 3091.1 760.3 3089.1 769.6 3087.1C778.9 3085.0 788.2 3082.8 797.5 3080.6C806.8 3078.4 816.1 3076.0 825.3 3073.6C834.5 3071.2 843.7 3068.8 852.9 3066.2C862.1 3063.7 871.3 3061.0 880.4 3058.3C889.6 3055.6 898.7 3052.8 907.8 3049.9C916.9 3047.0 926.0 3044.1 935.1 3041.1C944.1 3038.1 953.1 3035.0 962.1 3031.8C971.2 3028.6 980.1 3025.4 989.1 3022.0C998.1 3018.7 1007.0 3015.3 1015.9 3011.9C1024.8 3008.4 1033.7 3004.9 1042.6 3001.3C1051.5 2997.7 1060.3 2994.0 1069.1 2990.4C1078.0 2986.7 1086.8 2982.9 1095.6 2979.2C1104.4 2975.4 1113.2 2971.6 1122.0 2967.8C1130.8 2964.0 1139.5 2960.1 1148.3 2956.3C1157.1 2952.4 1165.8 2948.5 1174.6 2944.6C1183.3 2940.8 1192.1 2936.9 1200.8 2933.0C1209.6 2929.2 1222.7 2923.4 1227.1 2921.5"/><path id="cv10" d="M257.5 3178.6C262.2 3178.5 276.2 3178.2 285.5 3178.0C294.8 3177.8 304.2 3177.6 313.5 3177.3C322.8 3177.1 332.2 3176.8 341.5 3176.5C350.8 3176.2 360.2 3175.9 369.5 3175.6C378.8 3175.2 388.1 3174.9 397.5 3174.5C406.8 3174.1 416.1 3173.7 425.5 3173.3C434.8 3172.9 444.1 3172.4 453.4 3172.0C462.8 3171.5 472.1 3171.0 481.4 3170.5C490.7 3170.0 500.1 3169.4 509.4 3168.9C518.7 3168.3 528.0 3167.7 537.3 3167.1C546.7 3166.5 556.0 3165.8 565.3 3165.1C574.6 3164.5 583.9 3163.8 593.2 3163.0C602.5 3162.3 611.8 3161.5 621.1 3160.8C630.4 3160.0 639.7 3159.2 649.0 3158.3C658.3 3157.5 667.6 3156.6 676.9 3155.7C686.2 3154.8 695.4 3153.8 704.7 3152.8C714.0 3151.9 723.3 3150.9 732.5 3149.8C741.8 3148.8 751.1 3147.7 760.3 3146.6C769.6 3145.5 778.8 3144.4 788.1 3143.2C797.3 3142.0 806.6 3140.8 815.8 3139.6C825.1 3138.3 834.3 3137.0 843.5 3135.7C852.8 3134.4 862.0 3133.0 871.2 3131.7C880.4 3130.3 889.6 3128.8 898.8 3127.4C908.1 3125.9 917.3 3124.4 926.4 3122.8C935.6 3121.3 944.8 3119.7 954.0 3118.1C963.2 3116.5 972.4 3114.8 981.5 3113.1C990.7 3111.4 999.9 3109.6 1009.0 3107.8C1018.2 3106.1 1027.3 3104.2 1036.4 3102.3C1045.6 3100.5 1054.7 3098.5 1063.8 3096.6C1073.0 3094.6 1082.1 3092.6 1091.2 3090.6C1100.3 3088.5 1109.4 3086.4 1118.5 3084.3C1127.6 3082.1 1136.6 3079.9 1145.7 3077.7C1154.8 3075.5 1163.8 3073.2 1172.9 3070.8C1181.9 3068.5 1191.0 3066.1 1200.0 3063.7C1209.1 3061.3 1222.6 3057.5 1227.1 3056.3"/><path id="cv11" d="M1395.0 3212.3C1395.9 3208.8 1398.6 3198.2 1400.4 3191.2C1402.2 3184.1 1404.0 3177.1 1405.7 3170.1C1407.5 3163.1 1409.3 3156.0 1411.1 3149.0C1412.9 3142.0 1414.7 3135.0 1416.5 3128.1C1418.3 3121.1 1420.1 3114.1 1421.9 3107.1C1423.7 3100.1 1425.5 3093.2 1427.4 3086.2C1429.2 3079.3 1431.0 3072.3 1432.8 3065.3C1434.7 3058.4 1436.5 3051.5 1438.4 3044.5C1440.2 3037.6 1442.1 3030.6 1444.0 3023.7C1445.9 3016.8 1447.7 3009.9 1449.7 3002.9C1451.6 2996.0 1453.5 2989.1 1455.4 2982.2C1457.3 2975.3 1459.3 2968.4 1461.2 2961.5C1463.2 2954.6 1465.2 2947.7 1467.2 2940.7C1469.2 2933.8 1471.2 2926.9 1473.2 2920.0C1475.2 2913.1 1477.3 2906.3 1479.4 2899.4C1481.4 2892.5 1483.5 2885.6 1485.7 2878.7C1487.8 2871.8 1489.9 2864.9 1492.1 2858.0C1494.2 2851.1 1496.4 2844.2 1498.7 2837.3C1500.9 2830.4 1503.1 2823.5 1505.4 2816.6C1507.6 2809.7 1509.9 2802.8 1512.3 2795.9C1514.6 2789.0 1516.9 2782.1 1519.3 2775.2C1521.7 2768.3 1524.1 2761.4 1526.6 2754.5C1529.0 2747.6 1531.5 2740.7 1534.1 2733.8C1536.7 2727.0 1539.3 2720.2 1542.1 2713.4C1544.8 2706.7 1547.7 2700.0 1550.7 2693.5C1553.7 2686.9 1556.8 2680.4 1560.1 2674.1C1563.5 2667.8 1566.9 2661.5 1570.6 2655.5C1574.3 2649.5 1578.1 2643.6 1582.2 2637.9C1586.3 2632.2 1590.6 2626.7 1595.2 2621.4C1599.8 2616.1 1604.6 2611.1 1609.7 2606.3C1614.8 2601.4 1620.2 2596.9 1625.8 2592.6C1631.5 2588.3 1637.3 2584.3 1643.5 2580.5C1649.6 2576.8 1656.0 2573.4 1662.6 2570.3C1669.2 2567.2 1676.1 2564.4 1683.2 2562.0C1690.2 2559.5 1701.4 2556.7 1705.1 2555.7"/><path id="cv12" d="M1395.0 3212.3C1397.3 3208.5 1404.3 3197.0 1408.9 3189.2C1413.5 3181.5 1418.0 3173.7 1422.5 3165.9C1427.0 3158.0 1431.4 3150.2 1435.8 3142.3C1440.2 3134.4 1444.6 3126.5 1448.9 3118.6C1453.3 3110.6 1457.6 3102.6 1461.9 3094.7C1466.1 3086.7 1470.4 3078.7 1474.7 3070.7C1478.9 3062.7 1483.2 3054.6 1487.4 3046.6C1491.7 3038.6 1495.9 3030.5 1500.2 3022.5C1504.4 3014.5 1508.7 3006.4 1512.9 2998.4C1517.2 2990.4 1521.5 2982.4 1525.8 2974.4C1530.1 2966.4 1534.4 2958.4 1538.8 2950.4C1543.2 2942.4 1547.6 2934.5 1552.0 2926.6C1556.4 2918.6 1560.9 2910.7 1565.4 2902.9C1570.0 2895.0 1574.5 2887.2 1579.2 2879.4C1583.8 2871.6 1588.5 2863.9 1593.2 2856.2C1598.0 2848.5 1602.8 2840.8 1607.7 2833.2C1612.6 2825.6 1617.6 2818.0 1622.6 2810.5C1627.7 2803.0 1632.8 2795.6 1638.1 2788.2C1643.3 2780.8 1648.6 2773.5 1654.0 2766.3C1659.4 2759.1 1665.0 2751.9 1670.6 2744.8C1676.2 2737.7 1682.0 2730.7 1687.8 2723.8C1693.7 2716.9 1699.6 2710.0 1705.7 2703.3C1711.8 2696.7 1718.1 2690.1 1724.4 2683.7C1730.8 2677.3 1737.3 2671.0 1744.0 2665.0C1750.7 2659.0 1757.5 2653.1 1764.4 2647.5C1771.4 2641.9 1778.5 2636.4 1785.8 2631.3C1793.2 2626.2 1800.6 2621.3 1808.3 2616.8C1816.0 2612.2 1823.8 2607.9 1831.8 2604.0C1839.9 2600.0 1848.1 2596.4 1856.5 2593.1C1864.9 2589.8 1873.6 2586.9 1882.3 2584.2C1891.0 2581.5 1899.9 2579.1 1908.8 2576.9C1917.7 2574.6 1926.8 2572.6 1935.8 2570.7C1944.8 2568.8 1953.8 2567.0 1962.8 2565.3C1971.8 2563.5 1980.8 2561.9 1989.6 2560.2C1998.4 2558.5 2011.4 2555.9 2015.8 2555.0"/><path id="cv13" d="M1395.0 3212.3C1398.8 3208.1 1410.4 3195.5 1418.0 3187.0C1425.6 3178.6 1433.1 3170.0 1440.6 3161.5C1448.0 3152.9 1455.4 3144.3 1462.8 3135.7C1470.1 3127.1 1477.4 3118.5 1484.7 3109.8C1492.0 3101.1 1499.2 3092.4 1506.4 3083.7C1513.6 3075.0 1520.8 3066.3 1527.9 3057.6C1535.1 3048.9 1542.3 3040.1 1549.4 3031.4C1556.6 3022.7 1563.7 3013.9 1570.9 3005.2C1578.0 2996.5 1585.2 2987.7 1592.4 2979.0C1599.6 2970.3 1606.8 2961.7 1614.1 2953.0C1621.3 2944.3 1628.6 2935.7 1636.0 2927.1C1643.3 2918.5 1650.7 2909.9 1658.1 2901.3C1665.5 2892.8 1673.0 2884.3 1680.6 2875.8C1688.2 2867.3 1695.8 2858.9 1703.5 2850.5C1711.2 2842.2 1719.0 2833.9 1726.9 2825.6C1734.7 2817.4 1742.7 2809.3 1750.7 2801.2C1758.8 2793.1 1766.9 2785.2 1775.2 2777.3C1783.4 2769.5 1791.7 2761.7 1800.2 2754.1C1808.6 2746.5 1817.2 2738.9 1825.8 2731.6C1834.5 2724.2 1843.3 2717.0 1852.2 2710.0C1861.1 2702.9 1870.1 2696.1 1879.3 2689.4C1888.5 2682.8 1897.8 2676.4 1907.2 2670.3C1916.7 2664.2 1926.3 2658.3 1936.1 2652.8C1945.8 2647.2 1955.8 2642.0 1965.8 2637.0C1975.9 2632.0 1986.1 2627.4 1996.4 2623.0C2006.8 2618.6 2017.2 2614.5 2027.8 2610.7C2038.4 2606.9 2049.1 2603.4 2059.9 2600.2C2070.7 2596.9 2081.6 2594.0 2092.6 2591.4C2103.6 2588.7 2114.7 2586.4 2125.9 2584.3C2137.1 2582.1 2148.3 2580.2 2159.6 2578.4C2170.9 2576.6 2182.2 2575.0 2193.5 2573.4C2204.8 2571.9 2216.2 2570.4 2227.5 2569.0C2238.8 2567.5 2250.2 2566.2 2261.4 2564.7C2272.7 2563.2 2283.9 2561.8 2295.1 2560.1C2306.2 2558.5 2322.8 2555.9 2328.3 2555.0"/><path id="cv14" d="M1395.0 3212.3C1399.3 3208.6 1412.3 3197.5 1420.9 3190.0C1429.5 3182.6 1438.0 3175.1 1446.6 3167.6C1455.1 3160.1 1463.6 3152.6 1472.1 3145.0C1480.6 3137.5 1489.1 3129.9 1497.5 3122.3C1506.0 3114.7 1514.4 3107.1 1522.9 3099.5C1531.3 3091.9 1539.7 3084.3 1548.2 3076.7C1556.6 3069.0 1565.0 3061.4 1573.4 3053.7C1581.8 3046.1 1590.2 3038.5 1598.6 3030.8C1607.1 3023.2 1615.5 3015.5 1623.9 3007.9C1632.3 3000.2 1640.7 2992.6 1649.2 2985.0C1657.6 2977.3 1666.1 2969.7 1674.6 2962.1C1683.0 2954.5 1691.5 2946.9 1700.0 2939.3C1708.5 2931.7 1717.1 2924.1 1725.6 2916.6C1734.2 2909.0 1742.8 2901.5 1751.4 2894.0C1760.0 2886.5 1768.6 2879.0 1777.3 2871.6C1786.0 2864.2 1794.8 2856.9 1803.5 2849.6C1812.3 2842.3 1821.2 2835.1 1830.1 2827.9C1839.0 2820.8 1847.9 2813.7 1856.9 2806.8C1865.9 2799.9 1875.0 2793.0 1884.2 2786.3C1893.4 2779.6 1902.6 2773.0 1911.9 2766.5C1921.3 2760.1 1930.7 2753.8 1940.2 2747.6C1949.7 2741.4 1959.3 2735.4 1969.0 2729.6C1978.7 2723.8 1988.5 2718.1 1998.4 2712.6C2008.3 2707.1 2018.3 2701.8 2028.3 2696.6C2038.4 2691.5 2048.6 2686.5 2058.8 2681.7C2069.1 2676.9 2079.4 2672.2 2089.8 2667.7C2100.3 2663.2 2110.8 2658.9 2121.3 2654.8C2131.9 2650.6 2142.5 2646.6 2153.2 2642.8C2164.0 2639.0 2174.7 2635.3 2185.6 2631.8C2196.4 2628.3 2207.3 2625.0 2218.3 2621.8C2229.2 2618.6 2240.2 2615.6 2251.3 2612.7C2262.3 2609.8 2273.4 2607.0 2284.5 2604.4C2295.6 2601.7 2306.7 2599.2 2317.9 2596.9C2329.1 2594.5 2340.2 2592.2 2351.4 2590.0C2362.6 2587.8 2379.4 2584.8 2385.0 2583.8"/></defs>
<text x="1263.3" y="372.8" font-size="46" font-weight="500" style="fill:#ff5a0a">固有频率</text>
<rect x="1369.0" y="456.0" width="1009.0" height="328.4" fill="#dfe2e3"/>
<path d="M1369.0 520.5H2378.0" class="g"/>
<path d="M1369.0 586.7H2378.0" class="g"/>
<path d="M1369.0 657.0H2378.0" class="g"/>
<path d="M1369.0 718.8H2378.0" class="g"/>
<path d="M1369.0 850.3H2378.0" class="g"/>
<path d="M1369.0 915.2H2378.0" class="g"/>
<path d="M1369.0 981.4H2378.0" class="g"/>
<path d="M1369.0 1046.9H2378.0" class="g"/>
<path d="M1369.0 784.4H2418.0" class="g"/>
<path d="M1567.0 456.0V1110.0" class="g"/>
<path d="M1769.2 456.0V1110.0" class="g"/>
<path d="M1973.4 456.0V1110.0" class="g"/>
<path d="M2173.1 456.0V1110.0" class="g"/>
<path d="M1363.0 456.0H2378.2V1116.0" stroke="#f8b55c" stroke-width="1.6" fill="none"/>
<use href="#cv0" class="cy"/><use href="#cv0" class="cd"/>
<use href="#cv1" class="cy"/><use href="#cv1" class="cd"/>
<use href="#cv2" class="cy"/><use href="#cv2" class="cd"/>
<use href="#cv3" class="cy"/><use href="#cv3" class="cd"/>
<rect x="1363.0" y="456.0" width="6.2" height="660.2" fill="#f39800"/>
<rect x="1363.0" y="1110.0" width="1016.0" height="6.2" fill="#f39800"/>
<rect x="2383.6" y="1110.0" width="7.2" height="6.2" fill="#f39800"/>
<rect x="2397.2" y="1110.0" width="7.2" height="6.2" fill="#f39800"/>
<rect x="2412.8" y="1110.0" width="7.2" height="6.2" fill="#f39800"/>
<path d="M2418.3 790V956" class="k"/><path d="M2418.3 956V1110" class="kd"/><path d="M2419 785L2413 801H2419Z" fill="#231815"/>
<text transform="translate(2407.0 931.8) rotate(-90)" font-size="20.5" textLength="122.0" lengthAdjust="spacingAndGlyphs" class="b">静载适用范围</text>
<text x="1353.0" y="464.6" font-size="21" text-anchor="end" textLength="48.7" lengthAdjust="spacingAndGlyphs">0.010</text>
<text x="1353.0" y="529.2" font-size="21" text-anchor="end" textLength="54.3" lengthAdjust="spacingAndGlyphs">0.009</text>
<text x="1353.0" y="595.4" font-size="21" text-anchor="end" textLength="54.5" lengthAdjust="spacingAndGlyphs">0.008</text>
<text x="1353.0" y="660.8" font-size="21" text-anchor="end" textLength="53.0" lengthAdjust="spacingAndGlyphs">0.007</text>
<text x="1353.0" y="725.3" font-size="21" text-anchor="end" textLength="54.5" lengthAdjust="spacingAndGlyphs">0.006</text>
<text x="1353.0" y="790.7" font-size="21" text-anchor="end" textLength="54.5" lengthAdjust="spacingAndGlyphs">0.005</text>
<text x="1353.0" y="856.7" font-size="21" text-anchor="end" textLength="55.0" lengthAdjust="spacingAndGlyphs">0.004</text>
<text x="1353.0" y="922.5" font-size="21" text-anchor="end" textLength="53.5" lengthAdjust="spacingAndGlyphs">0.003</text>
<text x="1353.0" y="987.8" font-size="21" text-anchor="end" textLength="53.5" lengthAdjust="spacingAndGlyphs">0.002</text>
<text x="1353.0" y="1053.2" font-size="21" text-anchor="end" textLength="48.5" lengthAdjust="spacingAndGlyphs">0.001</text>
<text x="1353.0" y="1118.6" font-size="21" text-anchor="end" textLength="11.5" lengthAdjust="spacingAndGlyphs">0</text>
<text x="1568.4" y="1145.5" font-size="21" text-anchor="middle" textLength="24.0" lengthAdjust="spacingAndGlyphs">30</text>
<text x="1767.8" y="1145.5" font-size="21" text-anchor="middle" textLength="25.6" lengthAdjust="spacingAndGlyphs">40</text>
<text x="1974.6" y="1145.5" font-size="21" text-anchor="middle" textLength="25.2" lengthAdjust="spacingAndGlyphs">50</text>
<text x="2174.0" y="1145.5" font-size="21" text-anchor="middle" textLength="24.7" lengthAdjust="spacingAndGlyphs">60</text>
<text x="1366.0" y="1145.5" font-size="21" textLength="23.0" lengthAdjust="spacingAndGlyphs">20</text>
<text x="2376.6" y="1145.5" font-size="21" text-anchor="end" textLength="23.3" lengthAdjust="spacingAndGlyphs">70</text>
<text x="2257.6" y="1172.0" font-size="20.5" textLength="81.9" lengthAdjust="spacingAndGlyphs" class="b">固有频率</text>
<text x="2340.0" y="1172.0" font-size="20" textLength="36.6" lengthAdjust="spacingAndGlyphs">[Hz]</text>
<text transform="translate(1284.5 598.8) rotate(-90)" font-size="20.4" textLength="81.5" lengthAdjust="spacingAndGlyphs" class="m">特定负载</text>
<text transform="translate(1284.5 510.5) rotate(-90)" font-size="19.5" textLength="63.0" lengthAdjust="spacingAndGlyphs">N/mm²</text>
<text x="1990.4" y="582.6" font-size="21" textLength="75.4" lengthAdjust="spacingAndGlyphs">12.5 mm</text>
<text x="1990.4" y="808.9" font-size="21" textLength="63.8" lengthAdjust="spacingAndGlyphs">25 mm</text>
<text x="1990.4" y="905.7" font-size="21" textLength="77.1" lengthAdjust="spacingAndGlyphs">37.5 mm</text>
<text x="1990.4" y="958.3" font-size="21" textLength="65.9" lengthAdjust="spacingAndGlyphs">50 mm</text>
<text x="2184.6" y="777.9" font-size="21" textLength="124.0" lengthAdjust="spacingAndGlyphs">0.005 N/mm²</text>
<text x="1261.3" y="1386.8" font-size="46" font-weight="500" style="fill:#ff5a0a">弹性模量</text>
<rect x="1876.6" y="1525.5" width="510.8" height="677.5" fill="#dfe2e3"/>
<path d="M1371.0 1641.0H2387.0" class="g"/>
<path d="M1371.0 1752.4H2387.0" class="g"/>
<path d="M1371.0 1866.9H2387.0" class="g"/>
<path d="M1371.0 1977.3H2387.0" class="g"/>
<path d="M1371.0 2092.4H2387.0" class="g"/>
<path d="M1569.6 1525.5V2203.0" class="g"/>
<path d="M1773.7 1525.5V2203.0" class="g"/>
<path d="M1980.9 1525.5V2203.0" class="g"/>
<path d="M2184.3 1525.5V2203.0" class="g"/>
<path d="M1876.6 1483.0V1525.5" class="g"/>
<path d="M1364.5 1525.5H2387.4V2209.0" stroke="#f8b55c" stroke-width="1.6" fill="none"/>
<use href="#cv4" class="cy"/><use href="#cv4" class="cd"/>
<use href="#cv5" class="cy"/><use href="#cv5" class="cd"/>
<use href="#cv6" class="cy"/><use href="#cv6" class="cd"/>
<rect x="1364.5" y="1525.5" width="6.5" height="683.5" fill="#f39800"/>
<rect x="1364.5" y="2203.0" width="1023.7" height="6.0" fill="#f39800"/>
<rect x="1364.7" y="1484.9" width="6.5" height="7.2" fill="#f39800"/>
<rect x="1364.7" y="1498.9" width="6.5" height="7.2" fill="#f39800"/>
<rect x="1364.7" y="1513.3" width="6.5" height="7.2" fill="#f39800"/>
<path d="M1374 1482.4H1575" class="kd"/><path d="M1574 1482.4H1873" class="k"/><path d="M1876 1483.1L1864.5 1476.8V1483.1Z" fill="#231815"/>
<text x="1733.9" y="1511.5" font-size="21" textLength="126.4" lengthAdjust="spacingAndGlyphs" class="sf">静载适用范围</text>
<text x="1655.8" y="1629.8" font-size="21" textLength="55.1" lengthAdjust="spacingAndGlyphs">30 Hz</text>
<text x="1660.9" y="1835.0" font-size="21" textLength="50.0" lengthAdjust="spacingAndGlyphs">10 Hz</text>
<text x="1599.8" y="2078.5" font-size="21" textLength="111.1" lengthAdjust="spacingAndGlyphs">Quasi-static</text>
<text x="1817.1" y="1567.0" font-size="21" textLength="126.7" lengthAdjust="spacingAndGlyphs">0.005 N/mm²</text>
<text x="1353.1" y="1534.5" font-size="21" text-anchor="end" textLength="23.5" lengthAdjust="spacingAndGlyphs">1.2</text>
<text x="1353.1" y="1647.4" font-size="21" text-anchor="end" textLength="25.0" lengthAdjust="spacingAndGlyphs">1.0</text>
<text x="1353.1" y="1760.7" font-size="21" text-anchor="end" textLength="29.4" lengthAdjust="spacingAndGlyphs">0.8</text>
<text x="1353.1" y="1874.2" font-size="21" text-anchor="end" textLength="29.6" lengthAdjust="spacingAndGlyphs">0.6</text>
<text x="1353.1" y="1987.5" font-size="21" text-anchor="end" textLength="29.6" lengthAdjust="spacingAndGlyphs">0.4</text>
<text x="1353.1" y="2101.3" font-size="21" text-anchor="end" textLength="29.0" lengthAdjust="spacingAndGlyphs">0.2</text>
<text x="1353.1" y="2214.2" font-size="21" text-anchor="end" textLength="11.5" lengthAdjust="spacingAndGlyphs">0</text>
<text x="1366.4" y="2237.3" font-size="21" text-anchor="middle" textLength="11.3" lengthAdjust="spacingAndGlyphs">0</text>
<text x="1568.7" y="2237.3" font-size="21" text-anchor="middle" textLength="54.7" lengthAdjust="spacingAndGlyphs">0.002</text>
<text x="1774.3" y="2237.3" font-size="21" text-anchor="middle" textLength="55.7" lengthAdjust="spacingAndGlyphs">0.004</text>
<text x="1983.2" y="2237.3" font-size="21" text-anchor="middle" textLength="55.7" lengthAdjust="spacingAndGlyphs">0.006</text>
<text x="2185.5" y="2237.3" font-size="21" text-anchor="middle" textLength="56.0" lengthAdjust="spacingAndGlyphs">0.008</text>
<text x="2387.4" y="2233.8" font-size="20" text-anchor="end" textLength="47.2" lengthAdjust="spacingAndGlyphs">0.010</text>
<text x="2238.3" y="2270.0" font-size="20.5" textLength="83.2" lengthAdjust="spacingAndGlyphs" class="b">特定负载</text>
<text x="2323.5" y="2270.0" font-size="20" textLength="66.0" lengthAdjust="spacingAndGlyphs">N/mm²</text>
<text transform="translate(1285.5 1644.0) rotate(-90)" font-size="20.4" textLength="81.5" lengthAdjust="spacingAndGlyphs" class="l">弹性模量</text>
<text transform="translate(1285.5 1555.0) rotate(-90)" font-size="19.5" textLength="67.0" lengthAdjust="spacingAndGlyphs">N/mm²</text>
<text x="180.5" y="2468.0" font-size="46" font-weight="500" style="fill:#ff5a0a">能量吸收</text>
<rect x="257.5" y="2549.4" width="970.5" height="10.9" fill="#fff"/>
<rect x="902.7" y="2560.3" width="324.4" height="629.2" fill="#dfe2e3"/>
<path d="M257.5 2639.4H1227.0" class="g"/>
<path d="M257.5 2718.6H1227.0" class="g"/>
<path d="M257.5 2797.7H1227.0" class="g"/>
<path d="M257.5 2876.7H1227.0" class="g"/>
<path d="M257.5 2956.1H1227.0" class="g"/>
<path d="M257.5 3035.3H1227.0" class="g"/>
<path d="M257.5 3114.1H1227.0" class="g"/>
<path d="M417.4 2560.3V3189.5" class="g"/>
<path d="M579.4 2560.3V3189.5" class="g"/>
<path d="M741.1 2560.3V3189.5" class="g"/>
<path d="M1064.7 2560.3V3189.5" class="g"/>
<path d="M902.7 2521.0V3189.5" class="g"/>
<path d="M251.7 2560.3H1227.1V3195.5" stroke="#f8b55c" stroke-width="1.6" fill="none"/>
<use href="#cv7" class="cy"/><use href="#cv7" class="cd"/>
<use href="#cv8" class="cy"/><use href="#cv8" class="cd"/>
<use href="#cv9" class="cy"/><use href="#cv9" class="cd"/>
<use href="#cv10" class="cy"/><use href="#cv10" class="cd"/>
<rect x="251.7" y="2560.3" width="5.8" height="635.2" fill="#f39800"/>
<rect x="251.7" y="3189.5" width="976.2" height="6.0" fill="#f39800"/>
<rect x="251.7" y="2523.0" width="5.8" height="6.5" fill="#f39800"/>
<rect x="251.7" y="2536.0" width="5.8" height="6.5" fill="#f39800"/>
<rect x="251.7" y="2550.3" width="5.8" height="6.5" fill="#f39800"/>
<path d="M259.5 2520.6H580" class="kd"/><path d="M579 2520.6H900" class="k"/><path d="M902.7 2521.3L891.5 2514.8V2521.3Z" fill="#231815"/>
<text x="764.5" y="2548.5" font-size="19.5" textLength="124.0" lengthAdjust="spacingAndGlyphs" class="sf">冲击面积/范围</text>
<text x="951.3" y="2803.1" font-size="21" textLength="61.8" lengthAdjust="spacingAndGlyphs">50 mm</text>
<text x="950.6" y="2896.7" font-size="21" textLength="73.7" lengthAdjust="spacingAndGlyphs">37.5 mm</text>
<text x="950.6" y="3001.3" font-size="21" textLength="60.1" lengthAdjust="spacingAndGlyphs">25 mm</text>
<text x="950.6" y="3096.4" font-size="21" textLength="72.0" lengthAdjust="spacingAndGlyphs">12.5 mm</text>
<text x="238.6" y="2565.4" font-size="21" text-anchor="end">8</text>
<text x="238.6" y="2645.5" font-size="21" text-anchor="end">7</text>
<text x="238.6" y="2725.0" font-size="21" text-anchor="end">6</text>
<text x="238.6" y="2804.3" font-size="21" text-anchor="end">5</text>
<text x="238.6" y="2883.5" font-size="21" text-anchor="end">4</text>
<text x="238.6" y="2963.0" font-size="21" text-anchor="end">3</text>
<text x="238.6" y="3042.3" font-size="21" text-anchor="end">2</text>
<text x="238.6" y="3121.8" font-size="21" text-anchor="end">1</text>
<text x="238.6" y="3201.1" font-size="21" text-anchor="end">0</text>
<text x="416.6" y="3225.9" font-size="21" text-anchor="middle" textLength="23.0" lengthAdjust="spacingAndGlyphs">30</text>
<text x="576.6" y="3225.9" font-size="21" text-anchor="middle" textLength="23.0" lengthAdjust="spacingAndGlyphs">40</text>
<text x="740.0" y="3225.9" font-size="21" text-anchor="middle" textLength="23.0" lengthAdjust="spacingAndGlyphs">50</text>
<text x="906.0" y="3225.9" font-size="21" text-anchor="middle" textLength="23.0" lengthAdjust="spacingAndGlyphs">60</text>
<text x="1064.6" y="3225.9" font-size="21" text-anchor="middle" textLength="23.0" lengthAdjust="spacingAndGlyphs">70</text>
<text x="251.2" y="3225.9" font-size="21" textLength="22.5" lengthAdjust="spacingAndGlyphs">20</text>
<text x="1229.4" y="3225.9" font-size="21" text-anchor="end" textLength="23.0" lengthAdjust="spacingAndGlyphs">80</text>
<text x="1107.3" y="3251.0" font-size="20" textLength="80.0" lengthAdjust="spacingAndGlyphs" class="sf">线性压缩</text>
<text x="1196.0" y="3251.0" font-size="20" textLength="33.4" lengthAdjust="spacingAndGlyphs">[%]</text>
<text transform="translate(194.5 2714.0) rotate(-90)" font-size="20" textLength="79.0" lengthAdjust="spacingAndGlyphs" class="l">比吸能性</text>
<text transform="translate(194.5 2628.5) rotate(-90)" font-size="20" textLength="74.0" lengthAdjust="spacingAndGlyphs">mJ/mm²</text>
<text x="1286.5" y="2471.0" font-size="46" font-weight="400" style="fill:#ff5a0a">压缩量</text>
<rect x="1395.0" y="2555.0" width="990.0" height="329.3" fill="#dfe2e3"/>
<path d="M1395.0 2688.1H2385.0" class="g"/>
<path d="M1395.0 2821.2H2385.0" class="g"/>
<path d="M1395.0 2948.8H2385.0" class="g"/>
<path d="M1395.0 3080.6H2385.0" class="g"/>
<path d="M2385.0 2884.3H2425.0" class="g"/>
<path d="M1639.5 2555.0V3212.0" class="g"/>
<path d="M1888.5 2555.0V3212.0" class="g"/>
<path d="M2140.5 2555.0V3212.0" class="g"/>
<path d="M1389.2 2555.0H2385.0V3218.0" stroke="#f8b55c" stroke-width="1.6" fill="none"/>
<use href="#cv11" class="cy"/><use href="#cv11" class="cd"/>
<use href="#cv12" class="cy"/><use href="#cv12" class="cd"/>
<use href="#cv13" class="cy"/><use href="#cv13" class="cd"/>
<use href="#cv14" class="cy"/><use href="#cv14" class="cd"/>
<rect x="1389.2" y="2555.0" width="5.8" height="663.0" fill="#f39800"/>
<rect x="1389.2" y="3213.0" width="996.6" height="5.0" fill="#f39800"/>
<rect x="2388.4" y="3213.7" width="6.8" height="3.4" fill="#f39800"/>
<rect x="2403.0" y="3213.7" width="6.8" height="3.4" fill="#f39800"/>
<rect x="2416.6" y="3213.7" width="6.8" height="3.4" fill="#f39800"/>
<path d="M2425 2890V3072" class="k" style="stroke-width:1.2;stroke:#3a3a3a"/><path d="M2425 3060V3213" class="kd" style="stroke-width:1.2"/><path d="M2425.7 2884.5L2419.8 2897H2425.7Z" fill="#231815"/>
<text transform="translate(2410.5 3025.5) rotate(-90)" font-size="20.5" textLength="122.0" lengthAdjust="spacingAndGlyphs" class="b">静载适用范围</text>
<text x="1576.7" y="2684.0" font-size="21" textLength="75.1" lengthAdjust="spacingAndGlyphs">12.5 mm</text>
<text x="1757.7" y="2684.0" font-size="21" textLength="62.8" lengthAdjust="spacingAndGlyphs">25 mm</text>
<text x="1929.2" y="2684.0" font-size="21" textLength="77.1" lengthAdjust="spacingAndGlyphs">37.5 mm</text>
<text x="2126.9" y="2684.0" font-size="21" textLength="64.5" lengthAdjust="spacingAndGlyphs">50 mm</text>
<text x="2228.8" y="2878.3" font-size="21" textLength="123.2" lengthAdjust="spacingAndGlyphs">0.005 N/mm²</text>
<text x="1378.5" y="2564.8" font-size="21" text-anchor="end" textLength="48.7" lengthAdjust="spacingAndGlyphs">0.010</text>
<text x="1378.5" y="2694.7" font-size="21" text-anchor="end" textLength="55.2" lengthAdjust="spacingAndGlyphs">0.008</text>
<text x="1378.5" y="2825.0" font-size="21" text-anchor="end" textLength="55.2" lengthAdjust="spacingAndGlyphs">0.006</text>
<text x="1378.5" y="2954.7" font-size="21" text-anchor="end" textLength="55.0" lengthAdjust="spacingAndGlyphs">0.004</text>
<text x="1378.5" y="3084.9" font-size="21" text-anchor="end" textLength="54.0" lengthAdjust="spacingAndGlyphs">0.002</text>
<text x="1378.5" y="3214.8" font-size="21" text-anchor="end" textLength="11.9" lengthAdjust="spacingAndGlyphs">0</text>
<text x="1393.3" y="3247.4" font-size="21" text-anchor="middle">0</text>
<text x="1638.5" y="3247.4" font-size="21" text-anchor="middle">1</text>
<text x="1889.7" y="3247.4" font-size="21" text-anchor="middle">2</text>
<text x="2142.0" y="3247.4" font-size="21" text-anchor="middle">3</text>
<text x="2387.4" y="3247.4" font-size="21" text-anchor="end">4</text>
<text x="2272.6" y="3272.5" font-size="20" textLength="62.0" lengthAdjust="spacingAndGlyphs" class="sf">变形量</text>
<text x="2335.0" y="3272.5" font-size="20" textLength="45.7" lengthAdjust="spacingAndGlyphs" class="sf">[mm]</text>
<text transform="translate(1309.0 2700.7) rotate(-90)" font-size="20.4" textLength="81.5" lengthAdjust="spacingAndGlyphs" class="sf">特定负载</text>
<text transform="translate(1309.0 2611.5) rotate(-90)" font-size="19.5" textLength="63.0" lengthAdjust="spacingAndGlyphs">N/mm²</text>
<rect x="139.3" y="179.3" width="75.8" height="6.5" fill="#2480c6"/>
<rect x="173.8" y="185.8" width="6.8" height="6.2" fill="#2480c6"/>
<rect x="139.3" y="192.0" width="75.8" height="6.4" fill="#2480c6"/>
<rect x="140.1" y="203.2" width="6.7" height="25.5" fill="#2480c6"/>
<rect x="208.2" y="203.2" width="6.9" height="25.5" fill="#2480c6"/>
<rect x="155.2" y="198.4" width="6.8" height="36.0" fill="#2480c6"/>
<rect x="194.0" y="198.4" width="6.7" height="36.0" fill="#2480c6"/>
<rect x="139.3" y="234.4" width="75.8" height="6.4" fill="#2480c6"/>
<rect x="173.8" y="223.2" width="6.8" height="11.2" fill="#2480c6"/>
<path d="M162 218.7L177.3 202.1L194 220.1V230.8L177.3 212.7L162 229.1Z" fill="#2480c6"/>
<text x="121" y="273.9" font-size="30" font-weight="700" letter-spacing="1.2" textLength="115.5" lengthAdjust="spacingAndGlyphs" style="fill:#2480c6">THANS</text>
<text x="262" y="236.3" font-size="51.8" font-weight="700" style="fill:#2480c6">三思减振</text>
<text x="264.3" y="260.2" font-size="15.6" textLength="204.5" lengthAdjust="spacingAndGlyphs" style="fill:#2480c6">THANS Vibration Isolation</text>
<rect x="231.8" y="398.8" width="141" height="5" fill="#2a7fcf"/>
<text x="227.8" y="508.4" font-size="54.8" font-weight="500">高阻尼减振垫</text>
<text x="226.4" y="601.6" font-size="66" font-weight="700" textLength="196" lengthAdjust="spacingAndGlyphs">THM-5</text>
<text x="226.3" y="742" font-size="35.4" font-weight="500" style="fill:#3e3a39">静载适用范围</text>
<text x="225.3" y="795.5" font-size="34.5" textLength="194" lengthAdjust="spacing" style="fill:#3e3a39">0.005N/mm</text>
<text x="427.3" y="778.5" font-size="17" style="fill:#3e3a39">2</text>
<text x="223.9" y="880" font-size="35.4" font-weight="500" style="fill:#3e3a39">最大负载（罕见，短期负载）</text>
<text x="222.9" y="927.1" font-size="34.5" textLength="186" lengthAdjust="spacing" style="fill:#3e3a39">0.25N/mm</text>
<text x="418.2" y="910" font-size="17" style="fill:#3e3a39">2</text>
</svg>

</body></html>
